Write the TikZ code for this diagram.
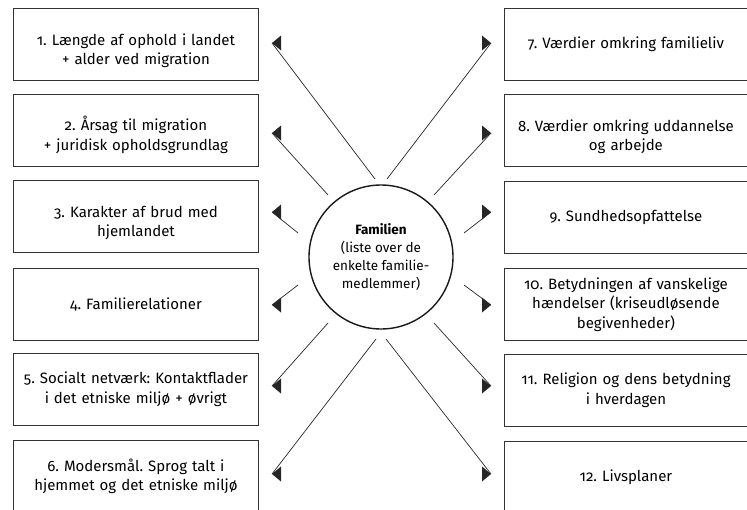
\documentclass[tikz,border=0pt]{standalone}
\usepackage{fontspec}
\setmainfont{Fira Sans}[Numbers=OldStyle]
\frenchspacing
\newcommand\lowerstrut{\rule{0pt}{24pt}}
\begin{document}
\begin{tikzpicture}[x=1pt,y=-1pt,
  box/.style={draw=black!80,line width=0.9pt,minimum width=245pt,minimum height=72pt,
    inner sep=0pt,anchor=north west,align=center,text width=238pt,
    font=\fontsize{15}{19.5}\selectfont},
  rbox/.style={box,minimum width=243pt},
  conn/.style={line width=0.7pt,black!85},
  tipfill/.style={fill=black!85}]
\useasboundingbox (0,0) rectangle (747,509);
\clip (0,0) rectangle (747,509);
% boxes left
\node[box] (b1) at (13,8) {\lowerstrut 1. Længde af ophold i landet\\+ alder ved migration};
\node[box] (b2) at (13,93.5) {\lowerstrut 2. Årsag til migration\\+ juridisk opholdsgrundlag};
\node[box] (b3) at (13,180) {\lowerstrut 3. Karakter af brud med\\hjemlandet};
\node[box] (b4) at (13,268) {4. Familierelationer};
\node[box] (b5) at (13,353) {5. Socialt netværk: Kontaktflader\\i det etniske miljø + øvrigt};
\node[box] (b6) at (13,440) {6. Modersmål. Sprog talt i\\hjemmet og det etniske miljø};
% boxes right
\node[rbox] (b7) at (504,7.5) {7. Værdier omkring familieliv};
\node[rbox] (b8) at (504,94) {\lowerstrut 8. Værdier omkring uddannelse\\og arbejde};
\node[rbox] (b9) at (504,181) {9. Sundhedsopfattelse};
\node[rbox] (b10) at (504,268) {10. Betydningen af vanskelige\\hændelser (kriseudløsende\\begivenheder)};
\node[rbox] (b11) at (504,354) {11. Religion og dens betydning\\i hverdagen};
\node[rbox] (b12) at (504,441) {12. Livsplaner};
% circle
\node[draw=black!90,line width=1.4pt,circle,minimum size=144pt,inner sep=0pt,align=center,
  font=\fontsize{13.5}{18}\selectfont] (fam) at (381,257)
  {{\bfseries Familien}\\(liste over de\\enkelte familie-\\medlemmer)};
% connector starts
\coordinate (s1) at (375,179);
\coordinate (s2) at (328,195);
\coordinate (s3) at (298,233);
\coordinate (s4) at (298,285);
\coordinate (s5) at (328,323);
\coordinate (s6) at (376,339);
\coordinate (s7) at (387,179);
\coordinate (s8) at (434,195);
\coordinate (s9) at (464,233);
\coordinate (s10) at (464,285);
\coordinate (s11) at (434,323);
\coordinate (s12) at (386,339);
% tips
\coordinate (t1) at (272,43);
\coordinate (t2) at (272,133);
\coordinate (t3) at (272,212);
\coordinate (t4) at (272,305);
\coordinate (t5) at (272,386);
\coordinate (t6) at (272,474);
\coordinate (t7) at (491,43);
\coordinate (t8) at (491,133);
\coordinate (t9) at (491,212);
\coordinate (t10) at (491,305);
\coordinate (t11) at (491,386);
\coordinate (t12) at (491,474);
\foreach \i in {1,...,12} \draw[conn] (s\i) -- (t\i);
\foreach \i in {1,...,6} \fill[tipfill] (t\i) -- ++(9,-7.5) -- ++(0,15) -- cycle;
\foreach \i in {7,...,12} \fill[tipfill] (t\i) -- ++(-9,-7.5) -- ++(0,15) -- cycle;
\end{tikzpicture}
\end{document}
